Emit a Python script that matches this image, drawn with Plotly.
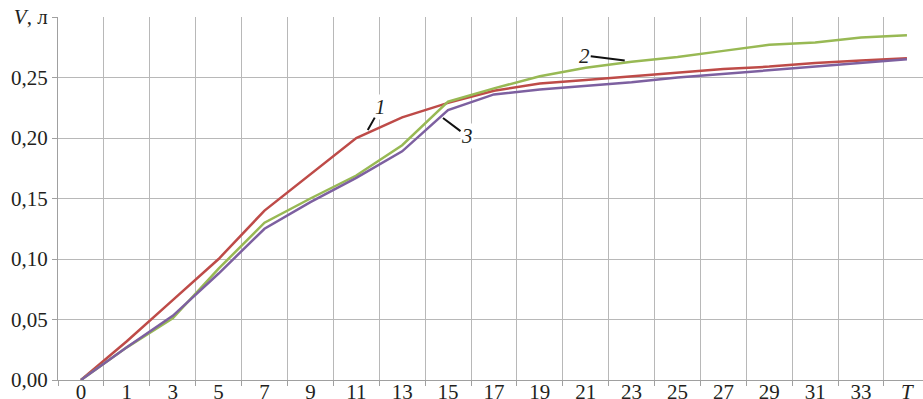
import plotly.graph_objects as go

cats = ['0', '1', '3', '5', '7', '9', '11', '13', '15', '17', '19', '21',
        '23', '25', '27', '29', '31', '33', 'T']
cat_labels = cats[:-1] + ['<i>T</i>']

v1 = [0, 0.032, 0.066, 0.100, 0.140, 0.170, 0.200, 0.217, 0.229, 0.239, 0.245,
      0.248, 0.251, 0.254, 0.257, 0.259, 0.262, 0.264, 0.266]
v2 = [0, 0.027, 0.051, 0.092, 0.130, 0.150, 0.169, 0.194, 0.230, 0.241, 0.251,
      0.258, 0.263, 0.267, 0.272, 0.277, 0.279, 0.283, 0.285]
v3 = [0, 0.027, 0.053, 0.088, 0.125, 0.147, 0.167, 0.189, 0.223, 0.236, 0.240,
      0.243, 0.246, 0.250, 0.253, 0.256, 0.259, 0.262, 0.265]

y_ticks = [0, 0.05, 0.10, 0.15, 0.20, 0.25, 0.30]
y_labels = ['0,00', '0,05', '0,10', '0,15', '0,20', '0,25', '<i>V</i>, л']

fig = go.Figure()
fig.add_trace(go.Scatter(x=cats, y=v1, mode='lines', line=dict(color='#BE4B48', width=2.5), name='1'))
fig.add_trace(go.Scatter(x=cats, y=v2, mode='lines', line=dict(color='#98B954', width=2.5), name='2'))
fig.add_trace(go.Scatter(x=cats, y=v3, mode='lines', line=dict(color='#7D60A0', width=2.5), name='3'))

font = dict(family='"Liberation Serif", "Times New Roman", serif', size=21, color='#231F20')

ann = [
    dict(text='<i>1</i>', x=6.25, y=0.2066, ax=13, ay=-23, bg='white'),
    dict(text='<i>2</i>', x=11.85, y=0.264, ax=-40, ay=-5, bg='rgba(0,0,0,0)'),
    dict(text='<i>3</i>', x=7.89, y=0.2165, ax=24, ay=18, bg='white'),
]
for a in ann:
    fig.add_annotation(x=a['x'], y=a['y'], ax=a['ax'], ay=a['ay'], text=a['text'],
                       xref='x', yref='y', axref='pixel', ayref='pixel',
                       showarrow=True, arrowhead=0, arrowwidth=2, arrowcolor='#111',
                       font=font, bgcolor=a['bg'], borderpad=0)

fig.update_layout(
    width=923, height=399,
    margin=dict(l=58, r=0, t=17, b=19, autoexpand=False),
    paper_bgcolor='white', plot_bgcolor='white',
    showlegend=False,
    font=font,
)
fig.update_xaxes(
    type='category', categoryorder='array', categoryarray=cats,
    tickmode='array', tickvals=cats, ticktext=cat_labels,
    tickson='boundaries', range=[-0.5, 18.35],
    showgrid=True, gridcolor='#B8B8B8', gridwidth=1.3,
    showline=True, linecolor='#A0A0A0', linewidth=1.3,
    ticks='outside', ticklen=5, tickcolor='#A0A0A0',
    tickfont=font, zeroline=False, automargin=False,
    ticklabelstandoff=-7,
)
fig.update_yaxes(
    range=[0, 0.30], tickmode='array', tickvals=y_ticks, ticktext=y_labels,
    showgrid=True, gridcolor='#B8B8B8', gridwidth=1.3,
    showline=True, linecolor='#A0A0A0', linewidth=1.3,
    ticks='outside', ticklen=5, tickcolor='#A0A0A0',
    tickfont=font, zeroline=False, automargin=False,
)

fig.write_html('out.html', config={'displayModeBar': False},
               post_script="document.body.style.margin='0';document.body.style.overflow='hidden';")
